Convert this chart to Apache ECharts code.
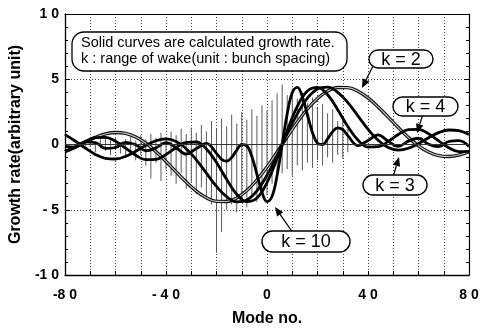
<!DOCTYPE html>
<html>
<head>
<meta charset="utf-8">
<script src="https://cdn.jsdelivr.net/npm/echarts@6.0.0/dist/echarts.min.js"></script>
<style>
  html, body { margin: 0; padding: 0; background: #fff; }
  #chart { width: 482px; height: 332px; }
</style>
</head>
<body>
<div id="chart"></div>
<script>
// calculated curves, mode step 4
let modes = [-80, -76, -72, -68, -64, -60, -56, -52, -48, -44, -40, -36, -32, -28, -24, -20, -16, -12, -8, -4,
  0, 4, 8, 12, 16, 20, 24, 28, 32, 36, 40, 44, 48, 52, 56, 60, 64, 68, 72, 76, 80];
let k2 = [-0.55, -0.20, 0.20, 0.55, 0.81, 0.92, 0.85, 0.57, 0.10, -0.54, -1.30, -2.10, -2.88, -3.57, -4.08, -4.36,
  -4.37, -4.09, -3.53, -2.72, -1.72, -0.59, 0.59, 1.72, 2.72, 3.53, 4.09, 4.37, 4.36, 4.08, 3.57, 2.88, 2.10, 1.30,
  0.54, -0.10, -0.57, -0.85, -0.92, -0.81, -0.55];
let k3 = [0.76, 0.27, -0.27, -0.76, -1.06, -1.11, -0.91, -0.52, -0.07, 0.29, 0.43, 0.23, -0.32, -1.17, -2.20, -3.21,
  -4.00, -4.39, -4.25, -3.55, -2.35, -0.83, 0.83, 2.35, 3.55, 4.25, 4.39, 4.00, 3.21, 2.20, 1.17, 0.32, -0.23, -0.43,
  -0.29, 0.07, 0.52, 0.91, 1.11, 1.06, 0.76];
let k4 = [-0.52, -0.21, 0.21, 0.52, 0.55, 0.25, -0.28, -0.82, -1.16, -1.14, -0.77, -0.24, 0.17, 0.19, -0.34, -1.38,
  -2.67, -3.81, -4.38, -4.10, -2.92, -1.06, 1.06, 2.92, 4.10, 4.38, 3.81, 2.67, 1.38, 0.34, -0.19, -0.17, 0.24, 0.77,
  1.14, 1.16, 0.82, 0.28, -0.25, -0.55, -0.52];
// k = 10 is sharper, denser near centre
let modes10 = [-80, -76, -72, -68, -64, -60, -56, -52, -48, -44, -40, -36, -32, -28, -24, -20,
  -18, -16, -14, -12, -10, -8, -6, -4, -2, 0, 2, 4, 6, 8, 10, 12, 14, 16, 18, 20, 22, 24, 26, 28, 30,
  32, 36, 40, 44, 48, 52, 56, 60, 64, 68, 72, 76, 80];
let k10 = [-0.15, -0.20, 0.20, 0.15, -0.30, -0.23, 0.17, -0.02, -0.48, -0.26, 0.14, -0.25, -0.74, -0.31, 0.08, -0.68,
  -1.14, -1.28, -0.99, -0.43, 0, -0.10, -0.92, -2.28, -3.66, -4.38, -3.97, -2.36, 0, 2.36, 3.97, 4.38, 3.66, 2.28,
  0.92, 0.10, 0, 0.43, 0.99, 1.28, 1.14,
  0.68, -0.08, 0.31, 0.74, 0.25, -0.14, 0.26, 0.48, 0.02, -0.17, 0.23, 0.30, -0.15];

// measured growth rate (vertical lines, top and bottom ends)
let measModes = [-72, -70, -68, -66, -64, -62, -60, -58, -56, -54, -52, -50, -48, -46, -44, -42, -40, -38, -36, -34,
  -32, -30, -28, -26, -24, -22, -20, -18, -16, -14, -12, -10, -8, -6, -4, -2, 0, 2, 4, 6, 8, 10, 12, 14, 16, 18, 20,
  22, 24, 26, 28, 30, 32];
let measHigh = [0.3, 0.5, 0.2, 0.4, 0.6, 0.3, 0.5, 0.2, 0.4, 0.6, 0.3, 0.7, 0.4, 0.8, 0.5, 0.9, 0.6, 1.0, 0.7, 1.2,
  0.8, 1.3, 0.9, 1.5, 1.0, 1.8, 1.2, 2.0, 1.4, 2.3, 1.6, 2.5, 1.9, 2.7, 2.2, 3.0, 2.6, 3.4, 3.9, 4.6, 3.8, 4.3, 3.5,
  4.0, 3.2, 3.6, 2.8, 3.1, 2.4, 2.7, 1.8, 2.0, 1.2];
let measLow = [-0.4, -0.2, -0.6, -0.3, -0.5, -0.8, -0.4, -0.7, -1.0, -0.6, -1.2, -0.8, -1.6, -2.6, -1.4, -2.8, -1.9,
  -2.4, -3.0, -2.2, -3.4, -2.9, -3.8, -3.3, -4.2, -4.6, -8.3, -6.7, -5.0, -4.6, -5.2, -4.3, -4.8, -3.9, -4.4, -3.5,
  -3.9, -3.0, -2.6, -2.2, -1.9, -2.4, -1.6, -2.0, -1.4, -1.8, -1.2, -1.6, -1.0, -1.4, -0.8, -1.1, -0.6];

let yLabels = { "10": "1 0", "5": "5", "0": "0", "-5": "- 5", "-10": "-1 0" };
let xLabels = { "-80": "-8 0", "-40": "- 4 0", "0": "0", "40": "4 0", "80": "8 0" };

function zip(xs, ys) {
  return xs.map((x, i) => [x, ys[i]]);
}

let chart = echarts.init(document.getElementById("chart"));

let boldFont = { color: "#000", fontWeight: "bold", fontSize: 14, fontFamily: "Liberation Sans, Arial" };
let nameFont = { color: "#000", fontWeight: "bold", fontSize: 16, fontFamily: "Liberation Sans, Arial" };
let dotted = { color: "#444", type: [1, 2], width: 1 };

function curve(name, xs, ys, color, width) {
  return {
    name: name,
    type: "line",
    data: zip(xs, ys),
    smooth: 0.4,
    symbol: "none",
    silent: true,
    lineStyle: { color: color, width: width }
  };
}

// pill label with arrow
function pill(x, y, w, h, text, ax, ay, tx, ty) {
  let dx = tx - ax, dy = ty - ay;
  let len = Math.sqrt(dx * dx + dy * dy);
  let ux = dx / len, uy = dy / len;
  let bx = tx - ux * 9, by = ty - uy * 9;
  return [
    {
      type: "line",
      shape: { x1: ax, y1: ay, x2: bx, y2: by },
      style: { stroke: "#000", lineWidth: 1.3 },
      z: 100
    },
    {
      type: "polygon",
      shape: { points: [[tx, ty], [bx - uy * 3.8, by + ux * 3.8], [bx + uy * 3.8, by - ux * 3.8]] },
      style: { fill: "#000" },
      z: 100
    },
    {
      type: "rect",
      shape: { x: x, y: y, width: w, height: h, r: h / 2 },
      style: { fill: "#fff", stroke: "#000", lineWidth: 1.4 },
      z: 101
    },
    {
      type: "text",
      x: x + w / 2,
      y: y + h / 2 + 1,
      style: {
        text: text, fill: "#000", font: "18px Liberation Sans, Arial",
        align: "center", verticalAlign: "middle"
      },
      z: 102
    }
  ];
}

let option = {
  animation: false,
  backgroundColor: "#fff",
  grid: { left: 65, right: 13, top: 14, bottom: 54 },
  xAxis: [
    {
      type: "value",
      min: -80,
      max: 80,
      interval: 10,
      name: "Mode no.",
      nameLocation: "middle",
      nameGap: 36,
      nameTextStyle: nameFont,
      axisLine: { onZero: false, lineStyle: { color: "#000", width: 1.3 } },
      axisTick: { inside: true, length: 4, lineStyle: { color: "#000" } },
      axisLabel: {
        margin: 13,
        formatter: v => xLabels[String(v)] || "",
        ...boldFont
      },
      splitLine: { show: true, lineStyle: dotted }
    },
    {
      type: "value",
      position: "top",
      min: -80,
      max: 80,
      interval: 10,
      axisLine: { onZero: false, lineStyle: { color: "#000", width: 1.2 } },
      axisTick: { show: false },
      axisLabel: { show: false },
      splitLine: { show: false }
    }
  ],
  yAxis: [
    {
      type: "value",
      min: -10,
      max: 10,
      interval: 5,
      name: "Growth rate(arbitrary unit)",
      nameLocation: "middle",
      nameGap: 41,
      nameTextStyle: nameFont,
      axisLine: { show: true, onZero: false, lineStyle: { color: "#000", width: 1.3 } },
      axisTick: { inside: true, length: 5, lineStyle: { color: "#000" } },
      minorTick: { show: true, splitNumber: 5, length: 3, lineStyle: { color: "#000" } },
      axisLabel: {
        margin: 6,
        formatter: v => yLabels[String(v)],
        ...boldFont
      },
      splitLine: { show: true, lineStyle: dotted }
    },
    {
      type: "value",
      position: "right",
      min: -10,
      max: 10,
      interval: 5,
      axisLine: { show: true, onZero: false, lineStyle: { color: "#000", width: 1.2 } },
      axisTick: { inside: true, length: 5, lineStyle: { color: "#000" } },
      minorTick: { show: true, splitNumber: 5, length: 3, lineStyle: { color: "#000" } },
      axisLabel: { show: false },
      splitLine: { show: false }
    }
  ],
  series: [
    {
      name: "measured high",
      type: "bar",
      stack: "meas",
      barWidth: 1,
      silent: true,
      data: zip(measModes, measHigh),
      itemStyle: { color: "#5a5a5a" },
      markLine: {
        silent: true,
        symbol: "none",
        label: { show: false },
        lineStyle: { color: "#333", type: "solid", width: 1 },
        data: [{ yAxis: 0 }]
      }
    },
    {
      name: "measured low",
      type: "bar",
      stack: "meas",
      barWidth: 1,
      silent: true,
      data: zip(measModes, measLow),
      itemStyle: { color: "#5a5a5a" }
    },
    curve("k=2", modes, k2, "#111", 3.4),
    curve("k=2 inner", modes, k2, "#c8c8c8", 1.1),
    curve("k=3", modes, k3, "#000", 2.8),
    curve("k=4", modes, k4, "#000", 2.8),
    curve("k=10", modes10, k10, "#000", 2.8)
  ],
  graphic: [
    {
      type: "rect",
      shape: { x: 72, y: 32, width: 275, height: 39, r: 12 },
      style: { fill: "#fff", stroke: "#000", lineWidth: 1.3 },
      z: 100
    },
    {
      type: "text",
      x: 81,
      y: 43,
      style: {
        text: "Solid curves are calculated growth rate.", fill: "#000",
        font: "14.5px Liberation Sans, Arial", verticalAlign: "middle"
      },
      z: 101
    },
    {
      type: "text",
      x: 81,
      y: 59,
      style: {
        text: "k : range of wake(unit : bunch spacing)", fill: "#000",
        font: "14.5px Liberation Sans, Arial", verticalAlign: "middle"
      },
      z: 101
    },
    ...pill(369, 50, 64, 18, "k = 2", 373, 66, 362, 88),
    ...pill(393, 97, 65, 19, "k = 4", 423, 114, 417, 133),
    ...pill(363, 175, 64, 20, "k = 3", 393, 177, 399, 157),
    ...pill(262, 231, 88, 21, "k = 10", 293, 233, 275, 207)
  ]
};

chart.setOption(option);
window.addEventListener("resize", () => chart.resize(), false);
</script>
</body>
</html>
